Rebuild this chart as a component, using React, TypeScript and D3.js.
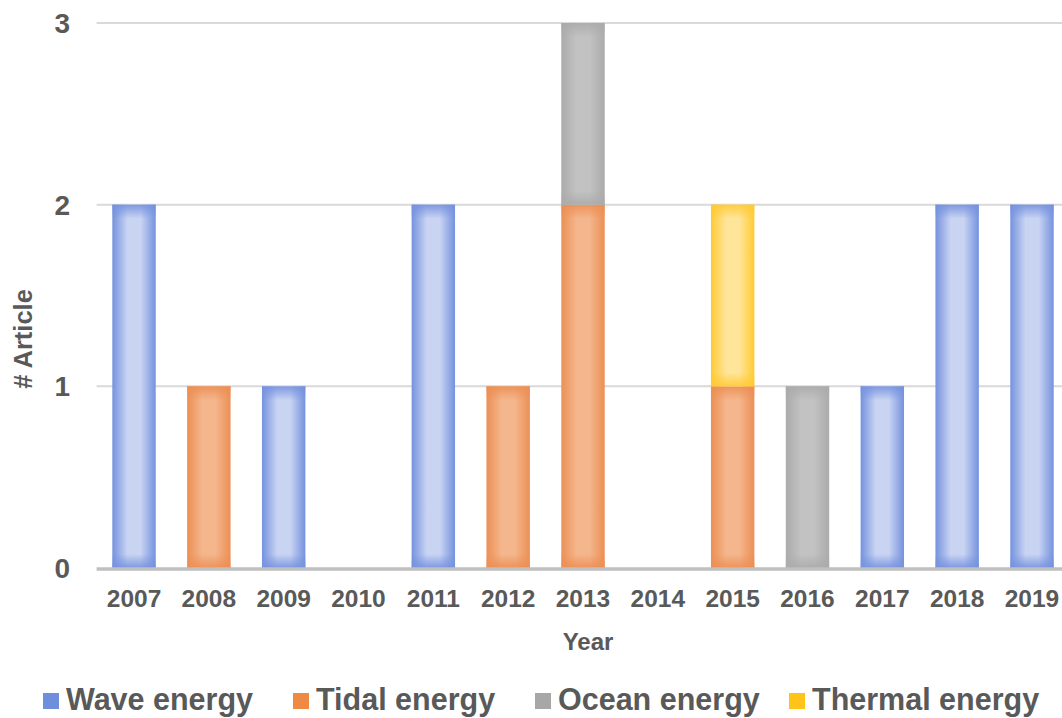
import React, { useRef, useEffect } from 'react';
import * as d3 from 'd3';

const years = ['2007', '2008', '2009', '2010', '2011', '2012', '2013', '2014', '2015', '2016', '2017', '2018', '2019'];
const wave = [2, 0, 1, 0, 2, 0, 0, 0, 0, 0, 1, 2, 2];
const tidal = [0, 1, 0, 0, 0, 1, 2, 0, 1, 0, 0, 0, 0];
const ocean = [0, 0, 0, 0, 0, 0, 1, 0, 0, 1, 0, 0, 0];
const thermal = [0, 0, 0, 0, 0, 0, 0, 0, 1, 0, 0, 0, 0];
const seriesNames = ['Wave energy', 'Tidal energy', 'Ocean energy', 'Thermal energy'];
const yTicks = [0, 1, 2, 3];

const colors = [
  { edge: '#7592de', mid: '#c9d4f3', legend: '#6f8fdc' },
  { edge: '#ec8f55', mid: '#f4b68c', legend: '#ef8a45' },
  { edge: '#ababab', mid: '#c2c2c2', legend: '#a7a7a7' },
  { edge: '#ffca33', mid: '#ffe59a', legend: '#ffc31a' },
];

const FONT = '"Liberation Sans", Arial, sans-serif';
const TEXT = '#595959';

const App: React.FC = () => {
  const ref = useRef<SVGSVGElement>(null);

  useEffect(() => {
    const svg = d3.select(ref.current);
    svg.selectAll('*').remove();

    const left = 96.6, right = 1069.4, top = 23, bottom = 568;

    const rows = years.map((y, i) => ({
      year: y,
      [seriesNames[0]]: wave[i],
      [seriesNames[1]]: tidal[i],
      [seriesNames[2]]: ocean[i],
      [seriesNames[3]]: thermal[i],
    }));
    const stacked = d3.stack<any>().keys(seriesNames)(rows);

    const x = d3.scaleBand()
      .domain(years)
      .range([left, right])
      .paddingInner(0.42)
      .paddingOuter(0.21);

    const y = d3.scaleLinear().domain([0, 3]).range([bottom, top]);

    const defs = svg.append('defs');
    colors.forEach((c, i) => {
      const h = defs.append('linearGradient')
        .attr('id', `gh${i}`)
        .attr('x1', 0).attr('x2', 1).attr('y1', 0).attr('y2', 0);
      h.append('stop').attr('offset', '0%').attr('stop-color', c.edge);
      h.append('stop').attr('offset', '35%').attr('stop-color', c.mid);
      h.append('stop').attr('offset', '65%').attr('stop-color', c.mid);
      h.append('stop').attr('offset', '100%').attr('stop-color', c.edge);
      const vt = defs.append('linearGradient')
        .attr('id', `gt${i}`)
        .attr('x1', 0).attr('x2', 0).attr('y1', 0).attr('y2', 1);
      vt.append('stop').attr('offset', '0%').attr('stop-color', c.edge).attr('stop-opacity', 0.9);
      vt.append('stop').attr('offset', '100%').attr('stop-color', c.edge).attr('stop-opacity', 0);
      const vb = defs.append('linearGradient')
        .attr('id', `gb${i}`)
        .attr('x1', 0).attr('x2', 0).attr('y1', 0).attr('y2', 1);
      vb.append('stop').attr('offset', '0%').attr('stop-color', c.edge).attr('stop-opacity', 0);
      vb.append('stop').attr('offset', '100%').attr('stop-color', c.edge).attr('stop-opacity', 0.9);
    });

    // gridlines
    svg.append('g')
      .selectAll('line')
      .data(yTicks.filter(t => t > 0))
      .enter().append('line')
        .attr('x1', left).attr('x2', 1062)
        .attr('y1', d => y(d)).attr('y2', d => y(d))
        .attr('stroke', '#d9d9d9').attr('stroke-width', 2);

    // bars
    const edgeH = 14;
    stacked.forEach((s, si) => {
      const g = svg.append('g');
      const segs = g.selectAll('g')
        .data(s.filter(d => d[1] - d[0] > 0))
        .enter().append('g');
      segs.append('rect')
        .attr('x', d => x(d.data.year) as number)
        .attr('width', x.bandwidth())
        .attr('y', d => y(d[1]))
        .attr('height', d => y(d[0]) - y(d[1]))
        .attr('fill', `url(#gh${si})`);
      segs.append('rect')
        .attr('x', d => x(d.data.year) as number)
        .attr('width', x.bandwidth())
        .attr('y', d => y(d[1]))
        .attr('height', edgeH)
        .attr('fill', `url(#gt${si})`);
      segs.append('rect')
        .attr('x', d => x(d.data.year) as number)
        .attr('width', x.bandwidth())
        .attr('y', d => y(d[0]) - edgeH)
        .attr('height', edgeH)
        .attr('fill', `url(#gb${si})`);
    });

    // zero line
    svg.append('line')
      .attr('x1', left).attr('x2', 1062)
      .attr('y1', bottom + 1).attr('y2', bottom + 1)
      .attr('stroke', '#bfbfbf').attr('stroke-width', 3.5);

    // y tick labels
    svg.append('g')
      .selectAll('text')
      .data(yTicks)
      .enter().append('text')
        .attr('x', 70)
        .attr('y', d => y(d) + 10)
        .attr('text-anchor', 'end')
        .attr('font-family', FONT).attr('font-weight', 'bold')
        .attr('font-size', 28).attr('fill', TEXT)
        .text(d => d);

    // x tick labels
    svg.append('g')
      .selectAll('text')
      .data(years)
      .enter().append('text')
        .attr('x', d => (x(d) as number) + x.bandwidth() / 2)
        .attr('y', 607)
        .attr('text-anchor', 'middle')
        .attr('font-family', FONT).attr('font-weight', 'bold')
        .attr('font-size', 24.5).attr('fill', TEXT)
        .text(d => d);

    // axis titles
    svg.append('text')
      .attr('x', 588).attr('y', 650)
      .attr('text-anchor', 'middle')
      .attr('font-family', FONT).attr('font-weight', 'bold')
      .attr('font-size', 24).attr('fill', TEXT)
      .text('Year');

    svg.append('text')
      .attr('transform', 'translate(32,339) rotate(-90)')
      .attr('text-anchor', 'middle')
      .attr('font-family', FONT).attr('font-weight', 'bold')
      .attr('font-size', 25.5).attr('fill', TEXT)
      .text('# Article');

    // legend
    const legendX = [43, 293, 535, 789];
    const lg = svg.append('g');
    seriesNames.forEach((name, i) => {
      lg.append('rect')
        .attr('x', legendX[i]).attr('y', 693)
        .attr('width', 16).attr('height', 16)
        .attr('fill', colors[i].legend);
      lg.append('text')
        .attr('x', legendX[i] + 23).attr('y', 710)
        .attr('font-family', FONT).attr('font-weight', 'bold')
        .attr('font-size', 30.5).attr('fill', TEXT)
        .text(name);
    });
  }, []);

  return (
    <svg
      ref={ref}
      width={1062}
      height={718}
      style={{ position: 'absolute', left: 0, top: 0, background: '#fff' }}
    />
  );
};

export default App;
